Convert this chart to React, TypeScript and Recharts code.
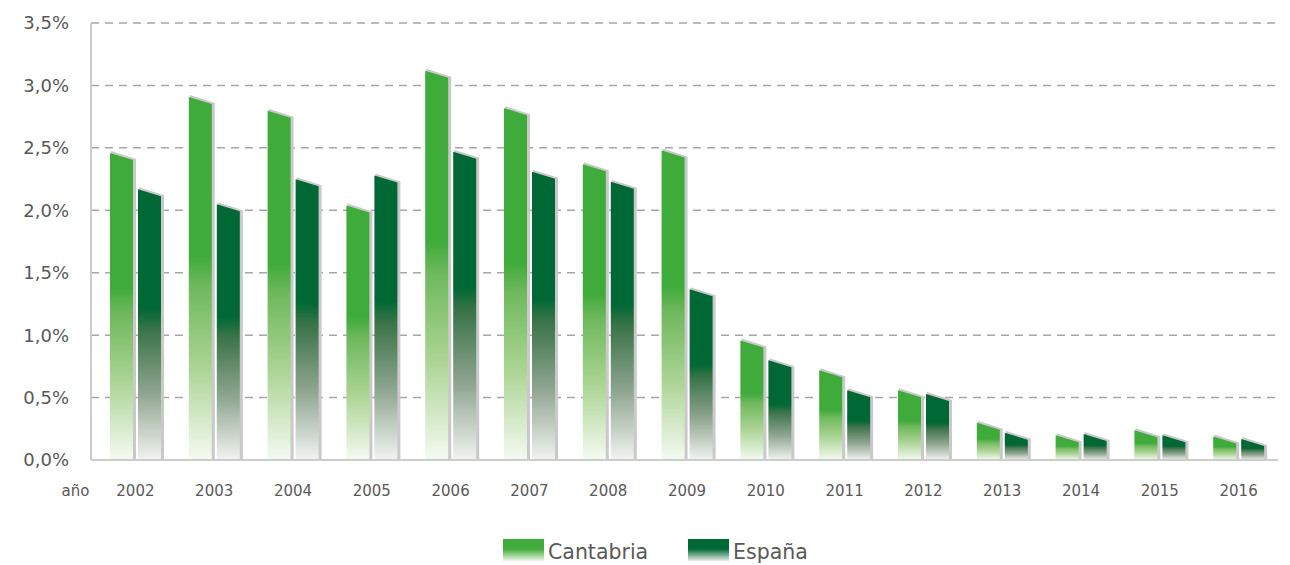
import React from "react";
import { BarChart, Bar, XAxis, YAxis, CartesianGrid, Legend } from "recharts";

const years = ["2002", "2003", "2004", "2005", "2006", "2007", "2008", "2009", "2010", "2011", "2012", "2013", "2014", "2015", "2016"];
const cantabria = [2.43, 2.88, 2.77, 2.01, 3.09, 2.79, 2.34, 2.45, 0.93, 0.69, 0.53, 0.27, 0.17, 0.21, 0.16];
const espana = [2.14, 2.02, 2.22, 2.25, 2.44, 2.28, 2.2, 1.34, 0.77, 0.53, 0.5, 0.19, 0.18, 0.17, 0.14];
const yTicks = [0, 0.5, 1, 1.5, 2, 2.5, 3, 3.5];

const data = years.map((y, i) => ({ year: y, cantabria: cantabria[i], espana: espana[i] }));

const FONT = "'DejaVu Sans', sans-serif";
const TEXT = "#595959";

function SlantBar(props: any) {
  const { x, y, width, height, gradId } = props;
  if (!height || height <= 0) return null;
  const bottom = y + height;
  const s = 3.5;
  const main = `${x},${y - s} ${x + width},${y + s} ${x + width},${bottom} ${x},${bottom}`;
  const shadow = `${x + 1},${y - s - 2} ${x + width + 3},${y + s - 1} ${x + width + 3},${bottom} ${x + 1},${bottom}`;
  return (
    <g>
      <polygon points={shadow} fill="#c9c9c9" />
      <polygon points={main} fill={`url(#${gradId})`} />
    </g>
  );
}

function XTick(props: any) {
  const { x, y, payload, index } = props;
  return (
    <g>
      {index === 0 && (
        <text x={x - 60} y={y + 28} textAnchor="middle" fill={TEXT} fontSize={15} fontFamily={FONT}>
          año
        </text>
      )}
      <text x={x} y={y + 28} textAnchor="middle" fill={TEXT} fontSize={15} fontFamily={FONT}>
        {payload.value}
      </text>
    </g>
  );
}

function LegendContent() {
  const items = [
    { label: "Cantabria", grad: "lgC", x: 503 },
    { label: "España", grad: "lgE", x: 688 },
  ];
  return (
    <svg width={1290} height={40} style={{ display: "block" }}>
      <defs>
        <linearGradient id="lgC" x1="0" y1="0" x2="0" y2="1">
          <stop offset="0%" stopColor="#3fab3a" />
          <stop offset="45%" stopColor="#3fab3a" />
          <stop offset="100%" stopColor="#eef7ea" />
        </linearGradient>
        <linearGradient id="lgE" x1="0" y1="0" x2="0" y2="1">
          <stop offset="0%" stopColor="#006834" />
          <stop offset="45%" stopColor="#006834" />
          <stop offset="100%" stopColor="#e6ebe6" />
        </linearGradient>
      </defs>
      {items.map((it) => (
        <g key={it.label}>
          <rect x={it.x} y={10} width={41} height={22} fill={`url(#${it.grad})`} />
          <text x={it.x + 45} y={30} fill={TEXT} fontSize={20.5} fontFamily={FONT}>
            {it.label}
          </text>
        </g>
      ))}
    </svg>
  );
}

export default function App() {
  return (
    <div style={{ position: "absolute", left: 0, top: 0, width: 1290, height: 565, background: "#fff" }}>
      <BarChart
        width={1290}
        height={565}
        data={data}
        margin={{ top: 23, right: 12, left: 0, bottom: 0 }}
        barSize={23}
        barGap={5}
      >
        <defs>
          <linearGradient id="gC" x1="0" y1="0" x2="0" y2="1">
            <stop offset="0%" stopColor="#3fab3a" />
            <stop offset="44%" stopColor="#3fab3a" />
            <stop offset="52%" stopColor="#6eb85c" />
            <stop offset="75%" stopColor="#add596" />
            <stop offset="100%" stopColor="#f5faf2" />
          </linearGradient>
          <linearGradient id="gE" x1="0" y1="0" x2="0" y2="1">
            <stop offset="0%" stopColor="#006834" />
            <stop offset="44%" stopColor="#006834" />
            <stop offset="52%" stopColor="#3b7449" />
            <stop offset="75%" stopColor="#8ea48f" />
            <stop offset="100%" stopColor="#f1f3f1" />
          </linearGradient>
        </defs>
        <CartesianGrid
          vertical={false}
          stroke="#a6a6a6"
          strokeWidth={1.5}
          strokeDasharray="8 6"
        />
        <XAxis
          dataKey="year"
          height={65}
          tickLine={false}
          axisLine={{ stroke: "#cccccc", strokeWidth: 2 }}
          tick={<XTick />}
          interval={0}
          padding={{ left: 5, right: 0 }}
        />
        <YAxis
          domain={[0, 3.5]}
          ticks={yTicks}
          width={91}
          tickLine={false}
          axisLine={{ stroke: "#cccccc", strokeWidth: 2 }}
          tick={{ fill: TEXT, fontSize: 18, fontFamily: FONT }}
          tickMargin={16}
          tickFormatter={(v: number) => v.toFixed(1).replace(".", ",") + "%"}
        />
        <Legend
          verticalAlign="bottom"
          content={<LegendContent />}
          wrapperStyle={{ left: 0, width: 1290, bottom: -4 }}
        />
        <Bar dataKey="cantabria" name="Cantabria" isAnimationActive={false} shape={<SlantBar gradId="gC" />} />
        <Bar dataKey="espana" name="España" isAnimationActive={false} shape={<SlantBar gradId="gE" />} />
      </BarChart>
    </div>
  );
}
